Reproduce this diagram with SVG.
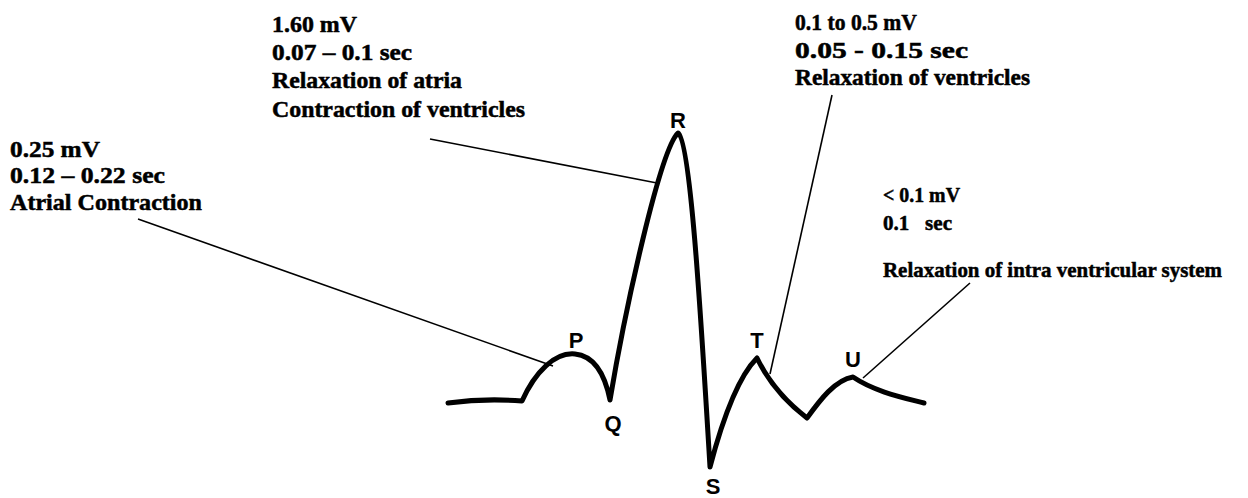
<svg xmlns="http://www.w3.org/2000/svg" width="1248" height="498" viewBox="0 0 1248 498">
<style>
.t{font-family:"Liberation Serif","Times New Roman",serif;font-weight:bold;font-size:23px;fill:#000;stroke:#000;stroke-width:0.5}
.s{font-size:21px}
.l{font-family:"Liberation Sans",Arial,sans-serif;font-weight:bold;font-size:22px;fill:#000;text-anchor:middle}
.c{stroke:#000;stroke-width:1.6;fill:none}
.w{stroke:#000;stroke-width:5;fill:none;stroke-linecap:round;stroke-linejoin:round}
</style>
<rect width="1248" height="498" fill="#fff"/>
<g id="trace">
<path class="w" d="M448,403 Q485,398 522,401 C535,372 555,352 575,354 C595,356 605,375 610,400 C625,310 660,150 678,133 C690,140 700,300 710,467 C725,410 740,375 757,358 C770,385 790,405 807,418 C820,400 835,380 853,377 C875,392 905,398 924,403"/>
</g>
<g id="wave-labels">
<text class="l" x="576" y="348">P</text>
<text class="l" x="613" y="431">Q</text>
<text class="l" x="678" y="128">R</text>
<text class="l" x="713" y="494">S</text>
<text class="l" x="757" y="348">T</text>
<text class="l" x="853" y="367">U</text>
</g>
<g id="connectors">
<line class="c" x1="138" y1="219" x2="553" y2="366"/>
<line class="c" x1="430" y1="139" x2="657" y2="183"/>
<line class="c" x1="832" y1="95" x2="770" y2="374"/>
<line class="c" x1="970" y1="283" x2="863" y2="378"/>
</g>
<g id="p-info">
<text class="t" x="10" y="157" textLength="90" lengthAdjust="spacingAndGlyphs">0.25 mV</text>
<text class="t" x="10" y="183" textLength="155" lengthAdjust="spacingAndGlyphs">0.12 – 0.22 sec</text>
<text class="t" x="10" y="210" textLength="192" lengthAdjust="spacingAndGlyphs">Atrial Contraction</text>
</g>
<g id="r-info">
<text class="t" x="272" y="32" textLength="85" lengthAdjust="spacingAndGlyphs">1.60 mV</text>
<text class="t" x="272" y="60" textLength="140" lengthAdjust="spacingAndGlyphs">0.07 – 0.1 sec</text>
<text class="t" x="272" y="88" textLength="190" lengthAdjust="spacingAndGlyphs">Relaxation of atria</text>
<text class="t" x="272" y="117" textLength="253" lengthAdjust="spacingAndGlyphs">Contraction of ventricles</text>
</g>
<g id="t-info">
<text class="t" x="795" y="30" textLength="122" lengthAdjust="spacingAndGlyphs">0.1 to 0.5 mV</text>
<text class="t" x="795" y="58" textLength="173" lengthAdjust="spacingAndGlyphs">0.05 - 0.15 sec</text>
<text class="t" x="795" y="85" textLength="235" lengthAdjust="spacingAndGlyphs">Relaxation of ventricles</text>
</g>
<g id="u-info">
<text class="t s" x="883" y="202" textLength="77" lengthAdjust="spacingAndGlyphs">&lt; 0.1 mV</text>
<text class="t s" x="883" y="230" textLength="69" lengthAdjust="spacingAndGlyphs" xml:space="preserve">0.1   sec</text>
<text class="t s" x="883" y="277" textLength="339" lengthAdjust="spacingAndGlyphs">Relaxation of intra ventricular system</text>
</g>
</svg>
